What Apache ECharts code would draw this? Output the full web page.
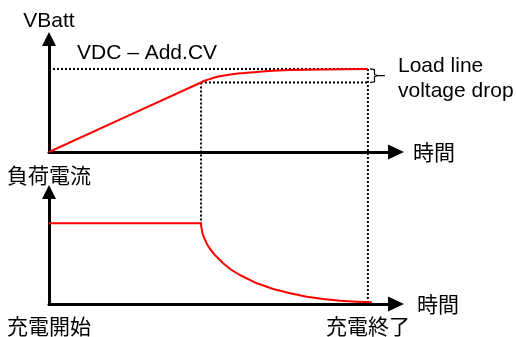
<!DOCTYPE html>
<html>
<head>
<meta charset="utf-8">
<script src="https://cdn.jsdelivr.net/npm/echarts@6/dist/echarts.min.js"></script>
<style>
html,body{margin:0;padding:0;background:#fff;}
#chart{width:516px;height:337px;}
</style>
</head>
<body>
<div id="chart"></div>
<script>
// ---- data (time axis 0..100, voltage/current in relative units 0..100) ----
const vbattTime  = [0, 43.8, 45.0, 46.4, 48.2, 50.1, 55.0, 59.9, 64.6, 69.5, 79.0, 91.9];
const vbattValue = [0, 61.5, 63.3, 64.6, 66.3, 67.5, 69.6, 70.9, 71.8, 72.5, 73.1, 73.5];

const currentTime  = [0, 43.8, 43.86, 44.0, 44.2, 44.5, 45.0, 45.5, 46.4, 47.8, 50.1, 52.4, 55.0, 59.9, 64.6, 69.5, 74.3, 79.0, 83.9, 88.7, 93.0];
const currentValue = [72, 72, 69.6, 67.0, 63.8, 60.7, 57.1, 53.6, 49.1, 43.8, 36.6, 30.8, 25.9, 18.5, 13.4, 9.6, 6.5, 4.5, 2.9, 2.1, 1.5];

const vdcLevel  = 73.5;   // VDC – Add.CV
const kneeLevel = 61.5;   // voltage at CC->CV switch
const kneeTime  = 43.8;
const endTime   = 91.9;
const kneeDropTo = -63.1; // knee dotted line reaches bottom current level (top-plot units)
const endDropTo  = -134.5; // end dotted line reaches bottom time axis (top-plot units)

const bracketT = [92.5, 93.8, 93.8, 94.6, 96.8, 94.6, 93.8, 93.8, 92.5];
const bracketV = [73.5, 72.9, 68.6, 67.6, 67.6, 67.6, 66.6, 62.1, 61.5];

const xAxisName = '時間';
const topYName = 'VBatt';
const bottomYName = '負荷電流';
const bottomTickValues = [0, endTime];
const bottomTickLabels = ['充電開始', '充電終了'];
const vdcText = 'VDC – Add.CV';
const dropText = 'Load line\nvoltage drop';

const zip = (a, b) => a.map((v, i) => [v, b[i]]);

const LAT = 'Liberation Sans, Arial, sans-serif';
const CJK = 'Noto Sans CJK JP, sans-serif';

const axisLine = (w, h) => ({
  show: true,
  symbol: ['none', 'triangle'],
  symbolSize: [w, h],
  lineStyle: { color: '#000', width: 3 }
});
const hidden = {
  axisTick: { show: false },
  axisLabel: { show: false },
  splitLine: { show: false }
};
const dotted = { color: '#000', width: 2, type: [2, 2] };

const chart = echarts.init(document.getElementById('chart'), null, { renderer: 'canvas' });
chart.setOption({
  animation: false,
  backgroundColor: '#fff',
  grid: [
    { left: 49, top: 39, width: 347, height: 113 },
    { left: 49, top: 192, width: 347, height: 112 }
  ],
  xAxis: [
    Object.assign({
      type: 'value', gridIndex: 0, min: 0, max: 100,
      axisLine: axisLine(15, 16),
      name: xAxisName, nameLocation: 'end', nameGap: 17,
      nameTextStyle: { fontFamily: CJK, fontSize: 21, color: '#000' }
    }, hidden),
    {
      type: 'value', gridIndex: 1, min: 0, max: 100,
      axisLine: axisLine(15, 16),
      axisTick: { show: false },
      splitLine: { show: false },
      axisLabel: {
        show: true,
        customValues: bottomTickValues,
        formatter: (v) => bottomTickLabels[bottomTickValues.indexOf(v)] || '',
        margin: 12,
        fontFamily: CJK, fontSize: 21, color: '#000'
      },
      name: xAxisName, nameLocation: 'end', nameGap: 21,
      nameTextStyle: { fontFamily: CJK, fontSize: 21, color: '#000' }
    }
  ],
  yAxis: [
    Object.assign({
      type: 'value', gridIndex: 0, min: 0, max: 100,
      axisLine: axisLine(14, 14),
      name: topYName, nameLocation: 'end', nameGap: 7,
      nameTextStyle: { fontFamily: LAT, fontSize: 21, color: '#000', align: 'center' }
    }, hidden),
    Object.assign({
      type: 'value', gridIndex: 1, min: 0, max: 100,
      axisLine: axisLine(14, 14),
      name: bottomYName, nameLocation: 'end', nameGap: 6,
      nameTextStyle: { fontFamily: CJK, fontSize: 21, color: '#000', align: 'center' }
    }, hidden)
  ],
  series: [
    { type: 'line', xAxisIndex: 0, yAxisIndex: 0, data: [[0, vdcLevel], [endTime, vdcLevel]],
      symbol: 'none', lineStyle: dotted, z: 2, silent: true },
    { type: 'line', xAxisIndex: 0, yAxisIndex: 0, data: [[kneeTime, kneeLevel], [endTime, kneeLevel]],
      symbol: 'none', lineStyle: dotted, z: 2, silent: true },
    { type: 'line', xAxisIndex: 0, yAxisIndex: 0, data: [[kneeTime, kneeLevel], [kneeTime, kneeDropTo]],
      symbol: 'none', lineStyle: dotted, z: 2, clip: false, silent: true },
    { type: 'line', xAxisIndex: 0, yAxisIndex: 0, data: [[endTime, vdcLevel], [endTime, endDropTo]],
      symbol: 'none', lineStyle: dotted, z: 2, clip: false, silent: true },
    { type: 'line', xAxisIndex: 0, yAxisIndex: 0, data: zip(bracketT, bracketV),
      symbol: 'none', lineStyle: { color: '#000', width: 1.2 }, z: 3, clip: false, silent: true },
    { type: 'line', xAxisIndex: 0, yAxisIndex: 0, data: zip(vbattTime, vbattValue),
      symbol: 'none', smooth: 0.2, lineStyle: { color: '#ff0000', width: 2 }, z: 5, clip: false },
    { type: 'line', xAxisIndex: 1, yAxisIndex: 1, data: zip(currentTime, currentValue),
      symbol: 'none', smooth: false, lineStyle: { color: '#ff0000', width: 2, join: 'round' }, z: 5, clip: false }
  ],
  graphic: [
    { type: 'text', left: 77, top: 43, z: 10,
      style: { text: vdcText, font: '21px ' + LAT, fill: '#000' } },
    { type: 'text', left: 398, top: 54, z: 10,
      style: { text: dropText, font: '21px ' + LAT, fill: '#000', lineHeight: 25 } }
  ]
});
</script>
</body>
</html>
